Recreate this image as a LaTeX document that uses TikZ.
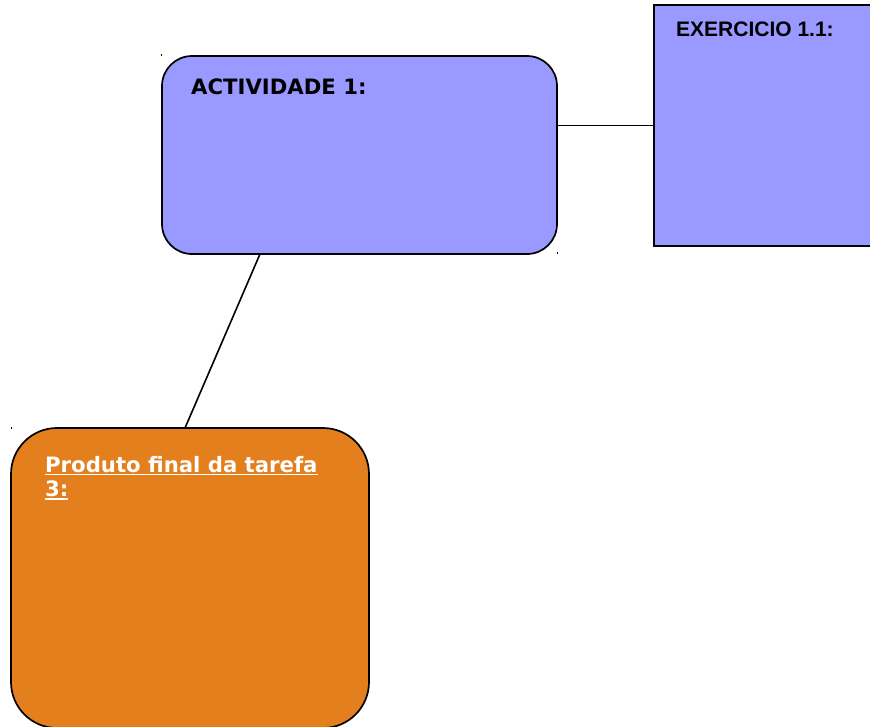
\documentclass[tikz,border=0pt]{standalone}
\usepackage{fontspec}
\setmainfont{DejaVu Sans}
\newfontfamily\arialfont{Liberation Sans}
\definecolor{boxblue}{HTML}{9999FF}
\definecolor{boxorange}{HTML}{E37F1D}
\newcommand{\undertext}[1]{\setbox0\hbox{#1}\rlap{\rule[-2.8pt]{\wd0}{1.6pt}}\box0}
\tikzset{
  box/.style={draw=black, line width=1.7pt, inner sep=0pt, outer sep=0pt},
  title/.style={anchor=base west, inner sep=0pt, font=\bfseries},
  link/.style={draw=black, line width=1.6pt}
}
\begin{document}
\begin{tikzpicture}[x=1pt,y=-1pt]
\useasboundingbox (0,0) rectangle (870,726);
\node[box, fill=boxblue, rounded corners=30pt, minimum width=395pt, minimum height=198pt] (act) at (359.5,155) {};
\node[box, fill=boxblue, minimum width=230pt, minimum height=241pt] (ex) at (769,125.5) {};
\node[box, fill=boxorange, rounded corners=46pt, minimum width=358pt, minimum height=300pt] (prod) at (190,578) {};
\draw[link] (ex.west) -- (ex.west -| act.east);
\draw[link] ([xshift=-99.5pt]act.south) -- ([xshift=-5pt]prod.north);
% textos
\node[title, font=\bfseries\fontsize{21.2}{24}\selectfont] (acttitle) at (191,94.5) {ACTIVIDADE 1:};
\node[title, font=\arialfont\bfseries\fontsize{21}{24}\selectfont] (extitle) at (676,36) {EXERCICIO 1.1:};
\node[title, text=white, align=left, font=\bfseries\fontsize{21.2}{24.4}\selectfont] (prodtitle) at (45,496.7) {\undertext{Produto final da tarefa}\\\undertext{3:}};
% marcas
\fill (160.8,54.2) rectangle (162.4,55.8);
\fill (556.5,252) rectangle (558.1,253.6);
\fill (10.5,427) rectangle (12.1,428.6);
\end{tikzpicture}
\end{document}
